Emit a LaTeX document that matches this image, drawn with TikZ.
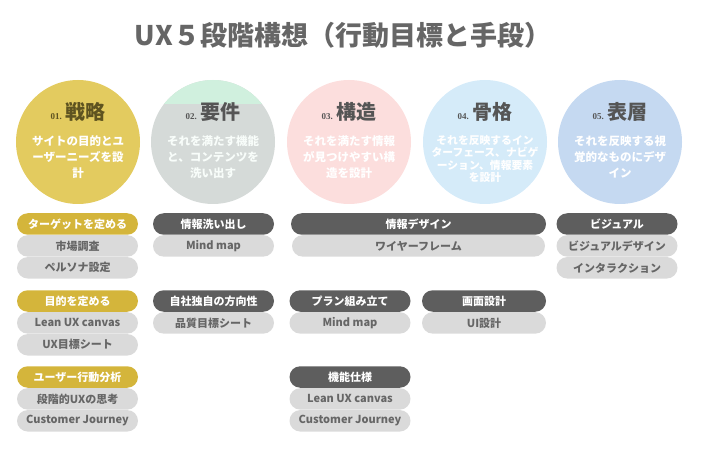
\documentclass[tikz,border=0pt]{standalone}
\usepackage{fontspec}
\setmainfont{Noto Sans CJK JP}
\newfontfamily\numfont{Liberation Serif}
\usetikzlibrary{positioning}
\definecolor{ctitle}{HTML}{666666}
\definecolor{cyel}{HTML}{E3CB5F}
\definecolor{cmint}{HTML}{D0F0DE}
\definecolor{cmist}{HTML}{D5DAD8}
\definecolor{cpink}{HTML}{FCDEDD}
\definecolor{csky}{HTML}{D5EBF9}
\definecolor{cblue}{HTML}{C5D9F1}
\definecolor{cgold}{HTML}{D4B53B}
\definecolor{cdark}{HTML}{5E5E5E}
\definecolor{cpale}{HTML}{DADADA}
\definecolor{cgray}{HTML}{666666}
\definecolor{colive}{HTML}{5E5320}
\definecolor{chead}{HTML}{555555}

\tikzset{
    stage/.style={circle, minimum size=124pt, inner sep=0pt},
    stagehead/.style={font=\fontsize{20}{22}\selectfont\bfseries, text=chead},
    stagetext/.style={align=center, text=white, font=\fontsize{11.5}{16}\selectfont\bfseries},
    pill/.style={rounded corners=10.75pt, minimum width=121pt, minimum height=21.5pt, inner sep=0pt, font=\fontsize{11}{13}\selectfont\bfseries},
    goalpill/.style={pill, fill=cgold, text=white},
    hdpill/.style={pill, fill=cdark, text=white},
    subpill/.style={pill, fill=cpale, text=cgray},
}
\newcommand{\stepno}[1]{{\numfont\fontsize{9}{9}\selectfont\bfseries #1}\,}

\begin{document}
\begin{tikzpicture}[x=1pt, y=-1pt]
    \useasboundingbox (0,0) rectangle (701,454);
    \node (title) [font=\fontsize{27}{32}\selectfont\bfseries, text=ctitle] at (343,35) {UX５段階構想（行動目標と手段）};

    % five stages
    \node (s1) [stage, fill=cyel] at (78,142) {};
    \node (s2) [stage, fill=cmist] at (213,142) {};
    \begin{scope}
        \clip (213,142) circle (62);
        \fill[cmint] (150,78) rectangle (276,104);
    \end{scope}
    \node (s3) [stage, fill=cpink] at (349,142) {};
    \node (s4) [stage, fill=csky] at (485,142) {};
    \node (s5) [stage, fill=cblue] at (620,142) {};

    \node (h1) [stagehead, text=colive] at (78,112) {\stepno{01.}戦略};
    \node (h2) [stagehead] at (213,112) {\stepno{02.}要件};
    \node (h3) [stagehead] at (349,112) {\stepno{03.}構造};
    \node (h4) [stagehead] at (485,112) {\stepno{04.}骨格};
    \node (h5) [stagehead] at (620,112) {\stepno{05.}表層};

    \node (d1) [stagetext] at (78,157) {サイトの目的とユ\\ーザーニーズを設\\計};
    \node (d2) [stagetext, text=white!85!cmint] at (213,157) {それを満たす機能\\と、コンテンツを\\洗い出す};
    \node (d3) [stagetext] at (349,157) {それを満たす情報\\が見つけやすい構\\造を設計};
    \node (d4) [stagetext, font=\fontsize{10.8}{12.4}\selectfont\bfseries] at (485,159) {それを反映するイン\\ターフェース、ナビゲ\\ーション、情報要素\\を設計};
    \node (d5) [stagetext] at (620,157) {それを反映する視\\覚的なものにデザ\\イン};

    % goals and means
    \node (g1) [goalpill] at (77.5,224) {ターゲットを定める};
    \node (g1a) [subpill, below=0pt of g1] {市場調査};
    \node (g1b) [subpill, below=0pt of g1a] {ペルソナ設定};
    \node (g2) [goalpill] at (77.5,301) {目的を定める};
    \node (g2a) [subpill, below=0pt of g2] {Lean UX canvas};
    \node (g2b) [subpill, below=0pt of g2a] {UX目標シート};
    \node (g3) [goalpill] at (77.5,377) {ユーザー行動分析};
    \node (g3a) [subpill, below=0pt of g3] {段階的UXの思考};
    \node (g3b) [subpill, below=0pt of g3a] {Customer Journey};

    \node (r1) [hdpill] at (213.5,224) {情報洗い出し};
    \node (r1a) [subpill, below=0pt of r1] {Mind map};
    \node (r2) [hdpill] at (213.5,301) {自社独自の方向性};
    \node (r2a) [subpill, below=0pt of r2] {品質目標シート};

    \node (k1) [hdpill, minimum width=255pt] at (418.5,224) {情報デザイン};
    \node (k1a) [subpill, minimum width=253pt, below=0pt of k1] {ワイヤーフレーム};
    \node (k2) [hdpill] at (350,301) {プラン組み立て};
    \node (k2a) [subpill, below=0pt of k2] {Mind map};
    \node (k3) [hdpill] at (350,377) {機能仕様};
    \node (k3a) [subpill, below=0pt of k3] {Lean UX canvas};
    \node (k3b) [subpill, below=0pt of k3a] {Customer Journey};

    \node (f1) [hdpill, minimum width=124pt] at (484,301) {画面設計};
    \node (f1a) [subpill, minimum width=124pt, below=0pt of f1] {UI設計};

    \node (v1) [hdpill] at (617,224) {ビジュアル};
    \node (v1a) [subpill, below=0pt of v1] {ビジュアルデザイン};
    \node (v1b) [subpill, below=0pt of v1a] {インタラクション};
\end{tikzpicture}
\end{document}
